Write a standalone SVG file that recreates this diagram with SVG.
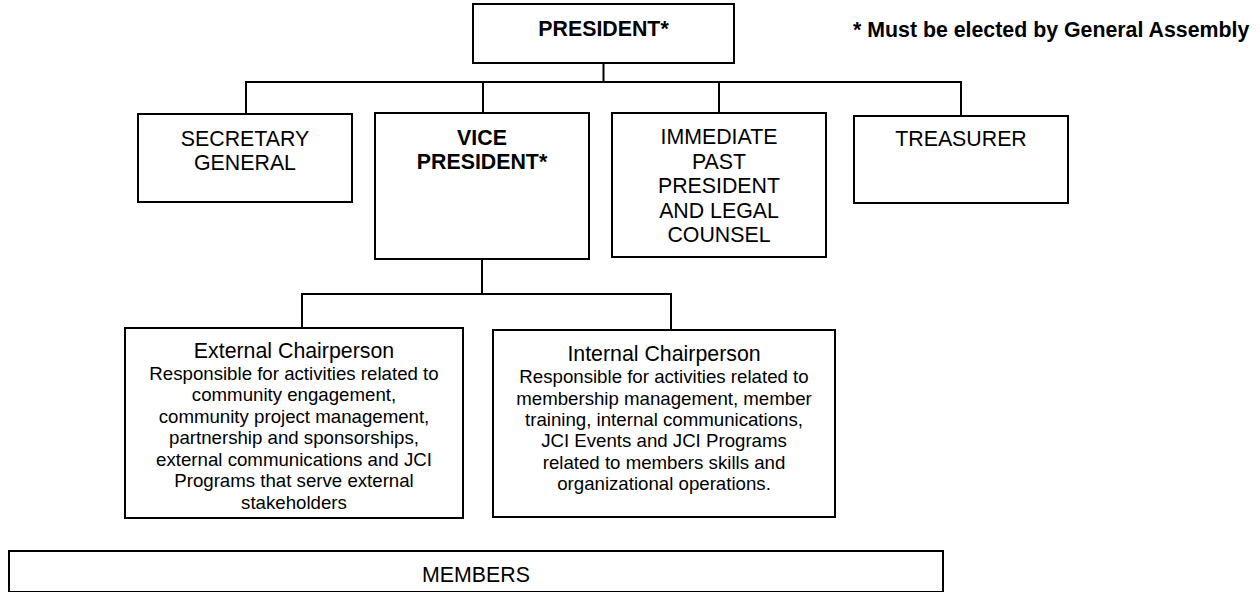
<svg xmlns="http://www.w3.org/2000/svg" width="1260" height="592" viewBox="0 0 1260 592">
<style>
.box{fill:#fff;stroke:#000;stroke-width:2}
.ln{fill:none;stroke:#000;stroke-width:2;stroke-linecap:square}
text{font-family:"Liberation Sans",Arial,sans-serif;fill:#000;text-anchor:middle}
.t{font-size:21.33px}
.b{font-size:21.33px;font-weight:bold}
.s{font-size:18.67px}
</style>
<rect width="1260" height="592" fill="#fff"/>
<g id="connectors">
<path class="ln" d="M603.5,63 V82 M246,82 H961 M246,82 V113 M483,82 V112 M719,82 V112 M961,82 V115"/>
<path class="ln" d="M482,259 V294 M302,294 H671 M302,294 V327 M671,294 V329"/>
</g>
<g id="president">
<rect class="box" x="473" y="4" width="261" height="59"/>
<text class="b" x="603.5" y="36">PRESIDENT*</text>
</g>
<g id="note">
<text class="b" x="853" y="37" style="text-anchor:start">* Must be elected by General Assembly</text>
</g>
<g id="secretary-general">
<rect class="box" x="138" y="114" width="214" height="88"/>
<text class="t" x="245" y="146">SECRETARY</text>
<text class="t" x="245" y="170">GENERAL</text>
</g>
<g id="vice-president">
<rect class="box" x="375" y="113" width="214" height="146"/>
<text class="b" x="482" y="145">VICE</text>
<text class="b" x="482" y="169">PRESIDENT*</text>
</g>
<g id="immediate-past-president">
<rect class="box" x="612" y="113" width="214" height="144"/>
<text class="t" x="719" y="144">IMMEDIATE</text>
<text class="t" x="719" y="169">PAST</text>
<text class="t" x="719" y="193">PRESIDENT</text>
<text class="t" x="719" y="218">AND LEGAL</text>
<text class="t" x="719" y="242">COUNSEL</text>
</g>
<g id="treasurer">
<rect class="box" x="854" y="116" width="214" height="87"/>
<text class="t" x="961" y="146">TREASURER</text>
</g>
<g id="external-chairperson">
<rect class="box" x="125" y="328" width="338" height="190"/>
<text class="t" x="294" y="358">External Chairperson</text>
<text class="s" x="294" y="379.5">Responsible for activities related to</text>
<text class="s" x="294" y="401">community engagement,</text>
<text class="s" x="294" y="422.5">community project management,</text>
<text class="s" x="294" y="444">partnership and sponsorships,</text>
<text class="s" x="294" y="465.5">external communications and JCI</text>
<text class="s" x="294" y="487">Programs that serve external</text>
<text class="s" x="294" y="508.5">stakeholders</text>
</g>
<g id="internal-chairperson">
<rect class="box" x="493" y="330" width="342" height="187"/>
<text class="t" x="664" y="361">Internal Chairperson</text>
<text class="s" x="664" y="383">Responsible for activities related to</text>
<text class="s" x="664" y="404.5">membership management, member</text>
<text class="s" x="664" y="426">training, internal communications,</text>
<text class="s" x="664" y="447">JCI Events and JCI Programs</text>
<text class="s" x="664" y="468.5">related to members skills and</text>
<text class="s" x="664" y="490">organizational operations.</text>
</g>
<g id="members">
<rect class="box" x="9" y="551" width="934" height="41"/>
<text class="t" x="476" y="582">MEMBERS</text>
</g>
</svg>
